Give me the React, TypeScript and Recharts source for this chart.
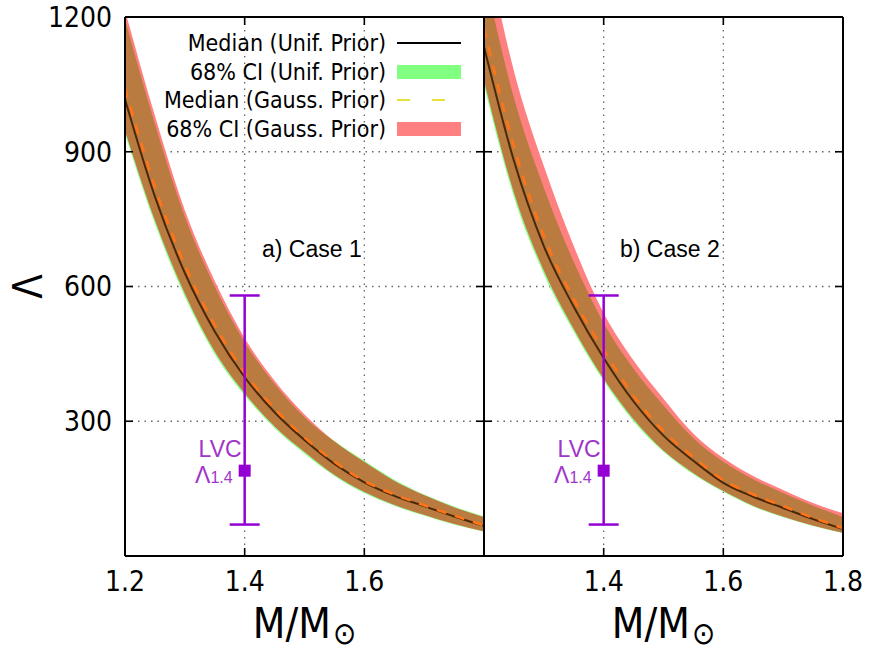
import {
  Area,
  CartesianGrid,
  ComposedChart,
  ErrorBar,
  Label,
  Line,
  ReferenceLine,
  Scatter,
  XAxis,
  YAxis,
} from "recharts"

const FONT = '"DejaVu Sans Condensed", "DejaVu Sans", sans-serif'
const ARIAL = '"Liberation Sans", Arial, sans-serif'

// neutron star mass grid (M/Msun)
const MASS = [1.2, 1.25, 1.3, 1.35, 1.4, 1.45, 1.5, 1.55, 1.6, 1.65, 1.7, 1.75, 1.8]

// case 1: tidal deformability, median + 68% band for both priors
const C1_MED_UNIF = [1017, 800, 630, 500, 398, 320, 258, 205, 164, 134, 111, 88, 67]
const C1_LO_UNIF = [940, 740, 578, 450, 358, 285, 228, 178, 140, 112, 90, 70, 54]
const C1_HI_UNIF = [1195, 962, 756, 600, 476, 383, 309, 256, 212, 170, 137, 110, 88]
const C1_MED_GAUSS = [1042, 822, 648, 514, 408, 328, 264, 210, 167, 137, 113, 90, 68]
const C1_LO_GAUSS = [948, 748, 585, 456, 363, 289, 232, 181, 143, 114, 92, 72, 55]
const C1_HI_GAUSS = [1215, 980, 770, 612, 485, 390, 315, 255, 209, 167, 135, 108, 86]

// case 2
const C2_MED_UNIF = [1134, 880, 690, 555, 441, 344, 268, 212, 163, 132, 107, 82, 60]
const C2_LO_UNIF = [1048, 800, 628, 500, 390, 300, 232, 182, 143, 110, 86, 67, 51]
const C2_HI_UNIF = [1300, 1020, 820, 655, 519, 417, 335, 262, 210, 171, 140, 112, 87]
const C2_MED_GAUSS = [1175, 912, 712, 572, 458, 357, 278, 220, 169, 137, 111, 85, 62]
const C2_LO_GAUSS = [1060, 810, 636, 506, 395, 305, 235, 185, 145, 112, 88, 68, 52]
const C2_HI_GAUSS = [1380, 1080, 868, 690, 541, 435, 350, 272, 218, 178, 147, 118, 95]

// LVC constraint on Lambda_1.4
const LVC_MASS = 1.4
const LVC_LAMBDA = 190
const LVC_LOW = 70
const LVC_HIGH = 580

const Y_TICKS = [300, 600, 900, 1200]
const X_TICKS = [1.2, 1.4, 1.6, 1.8]
const X_LABELS_LEFT = [1.2, 1.4, 1.6]
const X_LABELS_RIGHT = [1.4, 1.6, 1.8]
const X_DOMAIN = [1.2, 1.8]
const Y_DOMAIN = [0, 1200]

const LEGEND = [
  { label: "Median (Unif. Prior)", kind: "line", color: "#000000" },
  { label: "68% CI (Unif. Prior)", kind: "band", color: "#80ff80" },
  { label: "Median (Gauss. Prior)", kind: "dash", color: "#e8e03c" },
  { label: "68% CI (Gauss. Prior)", kind: "band", color: "#ff8080" },
]

const GREEN = "#80ff80"
const PINK = "#ff8080"
const BROWN = "#b97b40"
const PURPLE = "#9400d3"

const CHART_H = 654
const PLOT_TOP = 17
const X_AXIS_H = 40
const BOTTOM_MARGIN = 58
const PLOT_H = CHART_H - BOTTOM_MARGIN - X_AXIS_H - PLOT_TOP
const PLOT_W = 359
const TICK_LEN = 8

// inward tick length expressed in data units of each axis
const TICK_DX = (TICK_LEN / PLOT_W) * (X_DOMAIN[1] - X_DOMAIN[0])
const TICK_DY = (TICK_LEN / PLOT_H) * (Y_DOMAIN[1] - Y_DOMAIN[0])

type CaseData = {
  medUnif: number[]
  loUnif: number[]
  hiUnif: number[]
  medGauss: number[]
  loGauss: number[]
  hiGauss: number[]
}

const CASE1: CaseData = {
  medUnif: C1_MED_UNIF,
  loUnif: C1_LO_UNIF,
  hiUnif: C1_HI_UNIF,
  medGauss: C1_MED_GAUSS,
  loGauss: C1_LO_GAUSS,
  hiGauss: C1_HI_GAUSS,
}

const CASE2: CaseData = {
  medUnif: C2_MED_UNIF,
  loUnif: C2_LO_UNIF,
  hiUnif: C2_HI_UNIF,
  medGauss: C2_MED_GAUSS,
  loGauss: C2_LO_GAUSS,
  hiGauss: C2_HI_GAUSS,
}

function buildRows(c: CaseData) {
  return MASS.map((m, i) => ({
    m,
    medU: c.medUnif[i],
    medG: c.medGauss[i],
    bandU: [c.loUnif[i], c.hiUnif[i]],
    bandG: [c.loGauss[i], c.hiGauss[i]],
    both: [Math.max(c.loUnif[i], c.loGauss[i]), Math.min(c.hiUnif[i], c.hiGauss[i])],
  }))
}

const LVC_DATA = [
  { m: LVC_MASS, v: LVC_LAMBDA, err: [LVC_LAMBDA - LVC_LOW, LVC_HIGH - LVC_LAMBDA] },
]

// short tick segments pointing into the plot on all four edges
const TICK_SEGMENTS = [
  ...X_TICKS.flatMap((v) => [
    [{ x: v, y: Y_DOMAIN[0] }, { x: v, y: Y_DOMAIN[0] + TICK_DY }],
    [{ x: v, y: Y_DOMAIN[1] }, { x: v, y: Y_DOMAIN[1] - TICK_DY }],
  ]),
  ...Y_TICKS.flatMap((v) => [
    [{ x: X_DOMAIN[0], y: v }, { x: X_DOMAIN[0] + TICK_DX, y: v }],
    [{ x: X_DOMAIN[1], y: v }, { x: X_DOMAIN[1] - TICK_DX, y: v }],
  ]),
]

function LvcMarker(props: any) {
  const { cx, cy } = props
  return (
    <g>
      <rect x={cx - 6} y={cy - 6} width={12} height={12} fill={PURPLE} />
      <text x={cx - 3} y={cy - 14} textAnchor="end" fontFamily={ARIAL} fontSize={23} fill="#a035c8">
        LVC
      </text>
      <text x={cx - 12} y={cy + 12} textAnchor="end" fontFamily={ARIAL} fontSize={23} fill="#a035c8">
        Λ<tspan fontSize={16}>1.4</tspan>
      </text>
    </g>
  )
}

function MassTitle(props: any) {
  const { x, y, width } = props.viewBox
  return (
    <text x={x + width / 2} y={y + 82} textAnchor="middle" fontFamily={FONT} fontSize={42} fill="#000">
      M/M
      <tspan fontSize={31} dx={2} dy={6}>
        ⊙
      </tspan>
    </text>
  )
}

function LambdaTitle(props: any) {
  const { y, height } = props.viewBox
  const cy = y + height / 2
  return (
    <text
      x={28}
      y={cy}
      transform={`rotate(-90 28 ${cy})`}
      textAnchor="middle"
      dominantBaseline="central"
      fontFamily={FONT}
      fontSize={40}
      fill="#000"
    >
      Λ
    </text>
  )
}

function makeXTick(labels: number[]) {
  return function XTick(props: any) {
    const { x, y, payload } = props
    const v = payload.value as number
    if (!labels.includes(v)) return <g />
    return (
      <text x={x} y={y} dy="0.71em" textAnchor="middle" fontFamily={FONT} fontSize={28} fill="#000">
        {v.toFixed(1)}
      </text>
    )
  }
}

function YTick(props: any) {
  const { x, y, payload } = props
  return (
    <text x={x} y={y} dy="0.355em" textAnchor="end" fontFamily={FONT} fontSize={28} fill="#000">
      {payload.value}
    </text>
  )
}

const NoTick = () => <g />

function Panel({
  data,
  width,
  marginLeft,
  marginRight,
  yAxisWidth,
  xLabels,
}: {
  data: CaseData
  width: number
  marginLeft: number
  marginRight: number
  yAxisWidth: number
  xLabels: number[]
}) {
  const rows = buildRows(data)
  const showY = yAxisWidth > 0
  const frame = { stroke: "#000", strokeWidth: 2, ifOverflow: "visible" as const }
  return (
    <ComposedChart
      width={width}
      height={CHART_H}
      data={rows}
      margin={{ top: PLOT_TOP, right: marginRight, bottom: BOTTOM_MARGIN, left: marginLeft }}
    >
      <CartesianGrid stroke="#666" strokeDasharray="1.5 5" strokeWidth={1.3} />

      <Area dataKey="bandU" type="monotone" stroke="none" fill={GREEN} fillOpacity={1} isAnimationActive={false} activeDot={false} />
      <Area dataKey="bandG" type="monotone" stroke="none" fill={PINK} fillOpacity={1} isAnimationActive={false} activeDot={false} />
      <Area dataKey="both" type="monotone" stroke="none" fill={BROWN} fillOpacity={1} isAnimationActive={false} activeDot={false} />
      <Line dataKey="medU" type="monotone" stroke="#4a2806" strokeWidth={2} dot={false} isAnimationActive={false} />
      <Line dataKey="medG" type="monotone" stroke="#ff7418" strokeWidth={2.6} strokeDasharray="10 9" dot={false} isAnimationActive={false} />
      <Scatter data={LVC_DATA} dataKey="v" shape={<LvcMarker />} isAnimationActive={false}>
        <ErrorBar dataKey="err" direction="y" width={15} stroke={PURPLE} strokeWidth={2.5} isAnimationActive={false} />
      </Scatter>

      {/* plot frame and inward ticks */}
      <ReferenceLine x={X_DOMAIN[0]} {...frame} />
      <ReferenceLine x={X_DOMAIN[1]} {...frame} />
      <ReferenceLine y={Y_DOMAIN[0]} {...frame} />
      <ReferenceLine y={Y_DOMAIN[1]} {...frame} />
      {TICK_SEGMENTS.map((seg, i) => (
        <ReferenceLine key={i} segment={seg} stroke="#000" strokeWidth={1.6} ifOverflow="visible" />
      ))}

      <XAxis
        dataKey="m"
        type="number"
        domain={X_DOMAIN}
        ticks={X_TICKS}
        tick={makeXTick(xLabels)}
        tickLine={false}
        tickSize={0}
        tickMargin={15}
        axisLine={false}
        height={X_AXIS_H}
        allowDataOverflow
      >
        <Label content={MassTitle} />
      </XAxis>
      <YAxis
        type="number"
        domain={Y_DOMAIN}
        ticks={Y_TICKS}
        tick={showY ? YTick : NoTick}
        tickLine={false}
        tickSize={0}
        tickMargin={13}
        axisLine={false}
        width={yAxisWidth}
        mirror={!showY}
        allowDataOverflow
      >
        {showY && <Label content={LambdaTitle} />}
      </YAxis>
    </ComposedChart>
  )
}

function LegendSample({ kind, color }: { kind: string; color: string }) {
  return (
    <svg width={64} height={20} style={{ display: "block" }}>
      {kind === "line" && <line x1={0} x2={64} y1={10} y2={10} stroke={color} strokeWidth={2} />}
      {kind === "band" && <rect x={0} y={3} width={64} height={14} fill={color} />}
      {kind === "dash" && <line x1={0} x2={64} y1={10} y2={10} stroke={color} strokeWidth={2} strokeDasharray="13 22" />}
    </svg>
  )
}

export default function App() {
  return (
    <div style={{ position: "absolute", left: 0, top: 0, width: 872, height: 654, background: "#fff", overflow: "hidden" }}>
      <div style={{ position: "absolute", left: 0, top: 0 }}>
        <Panel data={CASE1} width={490} marginLeft={0} marginRight={6} yAxisWidth={125} xLabels={X_LABELS_LEFT} />
      </div>
      <div style={{ position: "absolute", left: 478, top: 0 }}>
        <Panel data={CASE2} width={394} marginLeft={6} marginRight={29} yAxisWidth={0} xLabels={X_LABELS_RIGHT} />
      </div>

      <div style={{ position: "absolute", left: 100, top: 29, fontFamily: FONT, fontSize: 23, color: "#000" }}>
        {LEGEND.map((item) => (
          <div key={item.label} style={{ display: "flex", alignItems: "center", height: 28.5 }}>
            <div style={{ width: 286, textAlign: "right", whiteSpace: "nowrap" }}>{item.label}</div>
            <div style={{ marginLeft: 11 }}>
              <LegendSample kind={item.kind} color={item.color} />
            </div>
          </div>
        ))}
      </div>

      <div style={{ position: "absolute", left: 262, top: 236, fontFamily: ARIAL, fontSize: 23, color: "#000" }}>a) Case 1</div>
      <div style={{ position: "absolute", left: 620, top: 236, fontFamily: ARIAL, fontSize: 23, color: "#000" }}>b) Case 2</div>
    </div>
  )
}
